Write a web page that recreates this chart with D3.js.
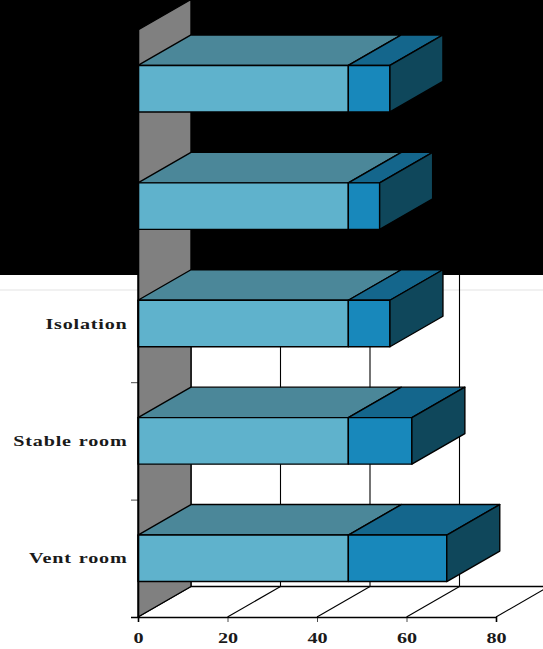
<!DOCTYPE html>
<html>
<head>
<meta charset="utf-8">
<script src="https://cdn.jsdelivr.net/npm/d3@7"></script>
<style>
  html, body { margin: 0; padding: 0; background: #fff; overflow: hidden; }
  svg { display: block; }
  text { font-family: "Liberation Serif", serif; font-weight: bold; fill: #1a1a1a; }
</style>
</head>
<body>
<svg id="chart" width="543" height="649"></svg>
<script>
// Rooms from the bottom of the chart upward; the two upper labels are not shown
const categories = ["Vent room", "Stable room", "Isolation", "", ""];
const firstSeries = [47, 47, 47, 47, 47];
const secondSeries = [22, 14.2, 9.3, 7, 9.3];
const xTicks = [0, 20, 40, 60, 80];

const colors = {
  wall: "#808080",
  first: { front: "#5fb2cc", top: "#4b8799" },
  second: { front: "#1888bb", top: "#14668c", side: "#0f475b" }
};

// Oblique projection: depth shifts marks right and up
const depth = { dx: 53, dy: -30.5 };
const svg = d3.select("#chart");

const x = d3.scaleLinear().domain([0, 80]).range([138, 496]);
const y = d3.scaleBand()
  .domain(d3.range(categories.length))
  .range([617, 30])
  .paddingInner(0.604)
  .paddingOuter(0.302);

const outline = (sel, width = 1.4) =>
  sel.attr("stroke", "#000").attr("stroke-width", width).attr("stroke-linejoin", "round");
const poly = (points, fill, parent = svg) =>
  outline(parent.append("path")
    .attr("d", d3.line()(points) + "Z")
    .attr("fill", fill));

// Dark header block and the faint divider beneath it
svg.append("rect").attr("x", 0).attr("y", 0).attr("width", 543).attr("height", 275).attr("fill", "#000");
svg.append("rect").attr("x", 0).attr("y", 289).attr("width", 543).attr("height", 2).attr("fill", "#f1f1f1");

// Floor
const [y0, yTop] = y.range();
const [x0, x1] = x.range();
const grid = svg.append("g");
xTicks.forEach(t => {
  outline(grid.append("line")
    .attr("x1", x(t)).attr("y1", y0)
    .attr("x2", x(t) + depth.dx).attr("y2", y0 + depth.dy), 1.1);
  outline(grid.append("line")
    .attr("x1", x(t) + depth.dx).attr("y1", y0 + depth.dy)
    .attr("x2", x(t) + depth.dx).attr("y2", yTop + depth.dy), 1.1);
});
outline(grid.append("line")
  .attr("x1", x0 + depth.dx).attr("y1", y0 + depth.dy)
  .attr("x2", x1 + depth.dx).attr("y2", y0 + depth.dy), 1.3);

// Side wall
poly([[x0, y0], [x0 + depth.dx, y0 + depth.dy], [x0 + depth.dx, yTop + depth.dy], [x0, yTop]], colors.wall);

// Stacked bars, lowest first so that upper bars keep their own faces
categories.forEach((_, i) => {
  const top = y(i), bottom = top + y.bandwidth();
  const a = x(0), b = x(firstSeries[i]), c = x(firstSeries[i] + secondSeries[i]);
  const { dx, dy } = depth;
  poly([[a, top], [a + dx, top + dy], [b + dx, top + dy], [b, top]], colors.first.top);
  poly([[a, top], [b, top], [b, bottom], [a, bottom]], colors.first.front);
  poly([[b, top], [b + dx, top + dy], [c + dx, top + dy], [c, top]], colors.second.top);
  poly([[b, top], [c, top], [c, bottom], [b, bottom]], colors.second.front);
  poly([[c, top], [c + dx, top + dy], [c + dx, bottom + dy], [c, bottom]], colors.second.side);
});

// Axes on the front plane; labels use a horizontally widened serif
const wide = 1.3;
const bottomAxis = d3.axisBottom(x).tickValues(xTicks).tickSize(5).tickPadding(10);
const gx = svg.append("g").attr("transform", `translate(0,${y0})`).call(bottomAxis);
gx.selectAll("text")
  .attr("font-size", 15.5)
  .attr("transform", `scale(${wide},1)`);

const leftScale = d3.scaleLinear().domain([0, categories.length]).range([y0, yTop]);
const gy = svg.append("g").attr("transform", `translate(${x0},0)`)
  .call(d3.axisLeft(leftScale).ticks(categories.length).tickSize(7).tickFormat(""));
[gx, gy].forEach(g => {
  g.selectAll("path.domain").attr("stroke", "#000").attr("stroke-width", 1.6);
  g.selectAll(".tick line").attr("stroke", "#000").attr("stroke-opacity", 0.7).attr("stroke-width", 1);
});

svg.append("g").selectAll("text")
  .data(categories)
  .join("text")
  .attr("transform", (d, i) => `translate(127.5,${y(i) + y.bandwidth() / 2 + 5}) scale(${wide},1)`)
  .attr("text-anchor", "end")
  .attr("font-size", 15.5)
  .style("letter-spacing", "0.6px")
  .style("word-spacing", "1px")
  .text(d => d);
</script>
</body>
</html>
